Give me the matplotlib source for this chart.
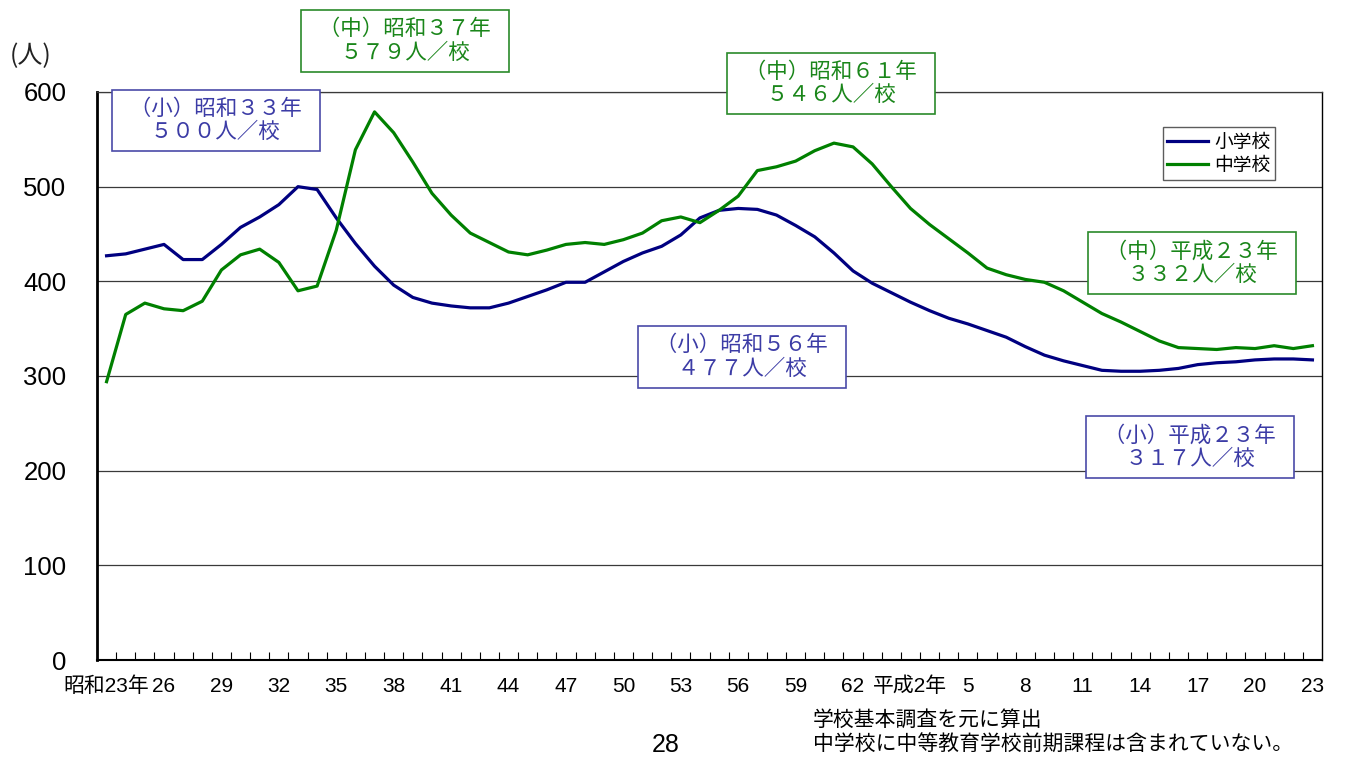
import numpy as np
import matplotlib
matplotlib.use('Agg')
from matplotlib import pyplot as plt
from matplotlib.ticker import FixedLocator

# 1校あたりの生徒数（人／校） 昭和23年〜平成23年
years = list(range(1948, 2012))
shogakko = [427, 429, 434, 439, 423, 423, 439, 457, 468, 481,
            500, 497, 467, 440, 416, 396, 383, 377, 374, 372,
            372, 377, 384, 391, 399, 399, 410, 421, 430, 437,
            449, 467, 475, 477, 476, 470, 459, 447, 430, 411,
            398, 388, 378, 369, 361, 355, 348, 341, 331, 322,
            316, 311, 306, 305, 305, 306, 308, 312, 314, 315,
            317, 318, 318, 317]
chugakko = [294, 365, 377, 371, 369, 379, 412, 428, 434, 420,
            390, 395, 454, 539, 579, 557, 526, 493, 470, 451,
            441, 431, 428, 433, 439, 441, 439, 444, 451, 464,
            468, 462, 475, 490, 517, 521, 527, 538, 546, 542,
            524, 500, 477, 460, 445, 430, 414, 407, 402, 399,
            390, 378, 366, 357, 347, 337, 330, 329, 328, 330,
            329, 332, 329, 332]
tick_labels = ['昭和23年', '26', '29', '32', '35', '38', '41', '44', '47', '50', '53',
               '56', '59', '62', '平成2年', '5', '8', '11', '14', '17', '20', '23']
tick_years = [1948, 1951, 1954, 1957, 1960, 1963, 1966, 1969, 1972, 1975, 1978,
              1981, 1984, 1987, 1990, 1993, 1996, 1999, 2002, 2005, 2008, 2011]

# 吹き出し (text, 年, 値, 色)
notes = [
    ('（小）昭和３３年\n５００人／校', 1953.7, 570, 'blue'),
    ('（中）昭和３７年\n５７９人／校', 1963.6, 654, 'green'),
    ('（中）昭和６１年\n５４６人／校', 1985.85, 609, 'green'),
    ('（小）昭和５６年\n４７７人／校', 1981.2, 320, 'blue'),
    ('（中）平成２３年\n３３２人／校', 2004.7, 419, 'green'),
    ('（小）平成２３年\n３１７人／校', 2004.6, 225, 'blue'),
]

JP = ['Noto Sans CJK JP', 'DejaVu Sans']
LAT = ['Liberation Sans', 'Noto Sans CJK JP']
BLUE = '#000080'
GREEN = '#008000'
note_colors = {'blue': ('#3c3ca6', '#4a4aa8'), 'green': ('#1a861a', '#2a8a2a')}

fig = plt.figure(figsize=(13.46, 7.58), dpi=100)
ax = fig.add_axes([97 / 1346, 1 - 660 / 758, 1225 / 1346, 568 / 758])

x = np.arange(len(years))
ax.plot(x, shogakko, color=BLUE, lw=2.3, label='小学校', zorder=3)
ax.plot(x, chugakko, color=GREEN, lw=2.3, label='中学校', zorder=3)

ax.set_xlim(-0.5, len(years) - 0.5)
ax.set_ylim(0, 600)
ax.set_yticks(range(0, 601, 100))
ax.yaxis.grid(True, color='#3a3a3a', lw=0.9)
ax.set_axisbelow(True)
ax.tick_params(axis='y', length=0, pad=22, labelsize=18.5)
for lab in ax.get_yticklabels():
    lab.set_family(LAT)

ax.set_xticks([years.index(y) for y in tick_years])
ax.set_xticklabels(tick_labels, fontsize=15, family=LAT)
ax.tick_params(axis='x', which='major', length=0, pad=12)
ax.xaxis.set_minor_locator(FixedLocator(np.arange(0.5, len(years) - 1, 1.0)))
ax.tick_params(axis='x', which='minor', direction='in', length=6, width=0.8, color='black')

ax.spines['left'].set_linewidth(2)
ax.spines['bottom'].set_linewidth(1.5)
ax.spines['right'].set_linewidth(1)
ax.spines['top'].set_linewidth(0.9)
ax.spines['top'].set_color('#3a3a3a')

for text, yr, val, c in notes:
    tc, ec = note_colors[c]
    padded = '\n'.join('  ' + ln + '  ' for ln in text.split('\n'))
    ax.text(years.index(int(yr)) + (yr - int(yr)), val, padded, ha='center', va='center',
            fontsize=15.5, family=JP, color=tc, linespacing=1.08, zorder=5,
            bbox=dict(boxstyle='square,pad=0.38', fc='white', ec=ec, lw=1.2))

leg = ax.legend(loc='upper right', bbox_to_anchor=((1275 - 97) / 1225, 1 - 35 / 568),
                prop={'family': JP, 'size': 13.5}, frameon=True, fancybox=False,
                handlelength=2.2, handletextpad=0.3, borderpad=0.25, labelspacing=0.1,
                borderaxespad=0)
leg.get_frame().set_edgecolor('#333333')
leg.get_frame().set_linewidth(1)

fig.text(31 / 1346, 1 - 56 / 758, '(人)', ha='center', va='center', fontsize=18,
         family=JP, color='#222222')
fig.text(813 / 1346, 1 - 720 / 758, '学校基本調査を元に算出', ha='left', va='center',
         fontsize=15, family=JP)
fig.text(813 / 1346, 1 - 745 / 758, '中学校に中等教育学校前期課程は含まれていない。',
         ha='left', va='center', fontsize=15, family=JP)
fig.text(666 / 1346, 1 - 745 / 758, '28', ha='center', va='center', fontsize=18, family=LAT)

fig.savefig('out.png', dpi=100)
